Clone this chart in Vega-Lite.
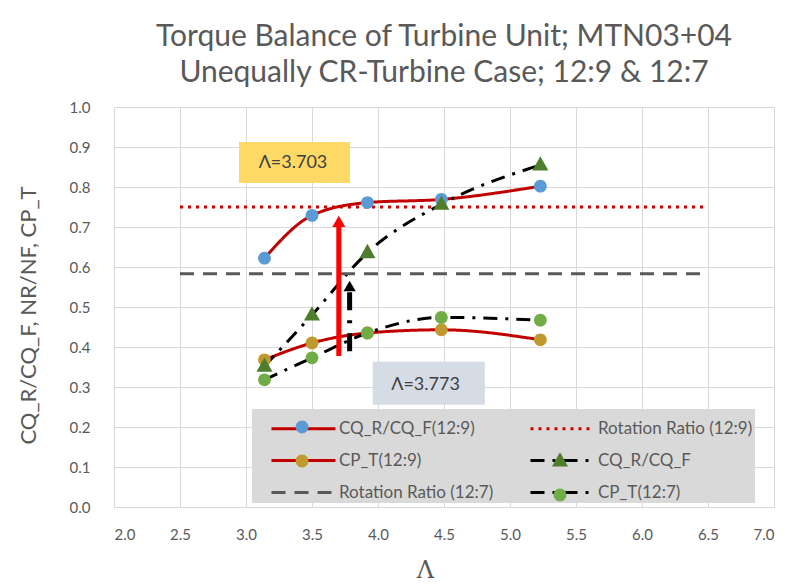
{
  "$schema": "https://vega.github.io/schema/vega-lite/v6.json",
  "width": 660,
  "height": 400,
  "autosize": {"type": "none"},
  "padding": {"left": 114, "top": 107, "right": 13, "bottom": 79},
  "background": "white",
  "title": {
    "text": ["Torque Balance of Turbine Unit; MTN03+04", "Unequally CR-Turbine Case; 12:9 & 12:7"],
    "font": "Lato",
    "fontSize": 30,
    "fontWeight": "normal",
    "color": "#595959",
    "lineHeight": 36,
    "anchor": "middle",
    "offset": 12
  },
  "datasets": {
    "series": [
      {"series": "CQ_R/CQ_F(12:9)", "lam": 3.14, "val": 0.622},
      {"series": "CQ_R/CQ_F(12:9)", "lam": 3.50, "val": 0.729},
      {"series": "CQ_R/CQ_F(12:9)", "lam": 3.92, "val": 0.761},
      {"series": "CQ_R/CQ_F(12:9)", "lam": 4.48, "val": 0.769},
      {"series": "CQ_R/CQ_F(12:9)", "lam": 5.23, "val": 0.802},
      {"series": "Rotation Ratio (12:9)", "lam": 2.5, "val": 0.75},
      {"series": "Rotation Ratio (12:9)", "lam": 6.5, "val": 0.75},
      {"series": "CP_T(12:9)", "lam": 3.14, "val": 0.368},
      {"series": "CP_T(12:9)", "lam": 3.50, "val": 0.410},
      {"series": "CP_T(12:9)", "lam": 3.92, "val": 0.435},
      {"series": "CP_T(12:9)", "lam": 4.48, "val": 0.443},
      {"series": "CP_T(12:9)", "lam": 5.23, "val": 0.418},
      {"series": "CQ_R/CQ_F", "lam": 3.14, "val": 0.352},
      {"series": "CQ_R/CQ_F", "lam": 3.50, "val": 0.480},
      {"series": "CQ_R/CQ_F", "lam": 3.92, "val": 0.636},
      {"series": "CQ_R/CQ_F", "lam": 4.48, "val": 0.757},
      {"series": "CQ_R/CQ_F", "lam": 5.23, "val": 0.855},
      {"series": "Rotation Ratio (12:7)", "lam": 2.5, "val": 0.5833},
      {"series": "Rotation Ratio (12:7)", "lam": 6.5, "val": 0.5833},
      {"series": "CP_T(12:7)", "lam": 3.14, "val": 0.318},
      {"series": "CP_T(12:7)", "lam": 3.50, "val": 0.373},
      {"series": "CP_T(12:7)", "lam": 3.92, "val": 0.435},
      {"series": "CP_T(12:7)", "lam": 4.48, "val": 0.474},
      {"series": "CP_T(12:7)", "lam": 5.23, "val": 0.467}
    ]
  },
  "encoding": {
    "x": {
      "field": "lam", "type": "quantitative",
      "scale": {"domain": [2, 7], "nice": false, "zero": false},
      "axis": {
        "values": [2, 2.5, 3, 3.5, 4, 4.5, 5, 5.5, 6, 6.5, 7],
        "format": ".1f",
        "labelPadding": 20,
        "labelOverlap": false,
        "title": "Λ",
        "titleFont": "DejaVu Serif",
        "titleFontSize": 24,
        "titleX": 311,
        "titleY": 51,
        "titleBaseline": "top"
      }
    },
    "y": {
      "field": "val", "type": "quantitative",
      "scale": {"domain": [0, 1], "nice": false},
      "axis": {
        "values": [0, 0.1, 0.2, 0.3, 0.4, 0.5, 0.6, 0.7, 0.8, 0.9, 1.0],
        "tickCount": 11,
        "format": ".1f",
        "labelPadding": 24,
        "labelOverlap": false,
        "title": "CQ_R/CQ_F, NR/NF, CP_T",
        "titleFont": "Lato",
        "titleFontSize": 22,
        "titleX": -86,
        "titleY": 208,
        "titleBaseline": "middle"
      }
    }
  },
  "layer": [
    {
      "data": {"values": [{"lam": 2.947, "lam2": 3.788, "val": 0.81, "hi": 0.9125}]},
      "mark": {"type": "rect", "color": "#FFD966"},
      "encoding": {
        "x2": {"field": "lam2"},
        "y2": {"field": "hi"}
      }
    },
    {
      "data": {"values": [{"lam": 3.96, "lam2": 4.81, "val": 0.2555, "hi": 0.363}]},
      "mark": {"type": "rect", "color": "#D6DCE5"},
      "encoding": {
        "x2": {"field": "lam2"},
        "y2": {"field": "hi"}
      }
    },
    {
      "data": {"name": "series"},
      "mark": {"type": "line", "interpolate": "monotone", "strokeWidth": 3},
      "encoding": {
        "color": {
          "field": "series", "type": "nominal",
          "scale": {
            "domain": ["CQ_R/CQ_F(12:9)", "CP_T(12:9)", "Rotation Ratio (12:7)", "Rotation Ratio (12:9)", "CQ_R/CQ_F", "CP_T(12:7)"],
            "range": ["#C00000", "#C00000", "#595959", "#D00000", "#000000", "#000000"]
          },
          "legend": {
            "title": null,
            "orient": "none",
            "legendX": 138,
            "legendY": 302,
            "columns": 2,
            "fillColor": "#D9D9D9",
            "padding": 2,
            "symbolType": "M0,0L4,0",
            "symbolSize": 1024,
            "symbolStrokeWidth": 3,
            "labelFont": "Lato",
            "labelFontSize": 17,
            "labelColor": "#595959",
            "labelOffset": 50,
            "labelLimit": 300,
            "rowPadding": 6,
            "columnPadding": 19
          }
        },
        "strokeDash": {
          "field": "series", "type": "nominal",
          "scale": {
            "domain": ["CQ_R/CQ_F(12:9)", "CP_T(12:9)", "Rotation Ratio (12:7)", "Rotation Ratio (12:9)", "CQ_R/CQ_F", "CP_T(12:7)"],
            "range": [[1, 0], [1, 0], [14, 9], [3, 5], [14, 8, 3, 8], [14, 8, 3, 8]]
          }
        }
      }
    },
    {
      "data": {"values": [{"lam": 3.703, "val": 0.3775, "hi": 0.70}]},
      "mark": {"type": "rule", "color": "#FF0000", "strokeWidth": 5},
      "encoding": {
        "y2": {"field": "hi"}
      }
    },
    {
      "data": {"values": [{"lam": 3.703, "val": 0.714}]},
      "mark": {"type": "point", "shape": "triangle-up", "filled": true, "color": "#FF0000", "size": 170, "opacity": 1}
    },
    {
      "data": {"values": [{"lam": 3.785, "val": 0.537, "hi": 0.38}]},
      "mark": {"type": "rule", "color": "#000000", "strokeWidth": 5, "strokeDash": [18, 10, 3, 10]},
      "encoding": {
        "y2": {"field": "hi"}
      }
    },
    {
      "data": {"values": [{"lam": 3.785, "val": 0.5525}]},
      "mark": {"type": "point", "shape": "triangle-up", "filled": true, "color": "#000000", "size": 150, "opacity": 1}
    },
    {
      "data": {"name": "series"},
      "transform": [{"filter": "indexof(datum.series, 'Rotation') < 0"}],
      "mark": {"type": "point", "filled": true, "size": 1024, "opacity": 1, "strokeWidth": 0},
      "encoding": {
        "fill": {
          "field": "series", "type": "nominal",
          "scale": {
            "domain": ["CP_T(12:7)", "CP_T(12:9)", "CQ_R/CQ_F", "CQ_R/CQ_F(12:9)", "Rotation Ratio (12:7)", "Rotation Ratio (12:9)"],
            "range": ["#70AD47", "#C09A2E", "#4E7D2C", "#5B9BD5", "transparent", "transparent"]
          },
          "legend": {
            "values": ["CQ_R/CQ_F(12:9)", "CP_T(12:9)", "Rotation Ratio (12:7)", "Rotation Ratio (12:9)", "CQ_R/CQ_F", "CP_T(12:7)"],
            "title": null,
            "orient": "none",
            "legendX": 138,
            "legendY": 302,
            "columns": 2,
            "fillColor": "transparent",
            "padding": 2,
            "symbolSize": 1024,
            "symbolOffset": 32,
            "symbolStrokeWidth": 0,
            "labelExpr": "''",
            "labelFont": "Lato",
            "labelFontSize": 17,
            "labelOffset": 50,
            "rowPadding": 10,
            "columnPadding": 144
          }
        },
        "shape": {
          "field": "series", "type": "nominal",
          "scale": {
            "domain": ["CP_T(12:7)", "CP_T(12:9)", "CQ_R/CQ_F", "CQ_R/CQ_F(12:9)", "Rotation Ratio (12:7)", "Rotation Ratio (12:9)"],
            "range": [
              "M0.4,0A0.4,0.4,0,1,1,-0.4,0A0.4,0.4,0,1,1,0.4,0Z",
              "M0.4,0A0.4,0.4,0,1,1,-0.4,0A0.4,0.4,0,1,1,0.4,0Z",
              "M0,-0.55L0.5,0.35L-0.5,0.35Z",
              "M0.4,0A0.4,0.4,0,1,1,-0.4,0A0.4,0.4,0,1,1,0.4,0Z",
              "M0.4,0A0.4,0.4,0,1,1,-0.4,0A0.4,0.4,0,1,1,0.4,0Z",
              "M0.4,0A0.4,0.4,0,1,1,-0.4,0A0.4,0.4,0,1,1,0.4,0Z"
            ]
          },
          "legend": {
            "values": ["CQ_R/CQ_F(12:9)", "CP_T(12:9)", "Rotation Ratio (12:7)", "Rotation Ratio (12:9)", "CQ_R/CQ_F", "CP_T(12:7)"],
            "title": null,
            "orient": "none",
            "legendX": 138,
            "legendY": 302,
            "columns": 2,
            "fillColor": "transparent",
            "padding": 2,
            "symbolSize": 1024,
            "symbolOffset": 32,
            "symbolStrokeWidth": 0,
            "labelExpr": "''",
            "labelFont": "Lato",
            "labelFontSize": 17,
            "labelOffset": 50,
            "rowPadding": 10,
            "columnPadding": 144
          }
        }
      }
    },
    {
      "data": {"values": [{"lam": 3.356, "val": 0.86, "label": "Λ=3.703"}, {"lam": 4.36, "val": 0.306, "label": "Λ=3.773"}]},
      "mark": {"type": "text", "font": "Lato", "fontSize": 18, "color": "#404040", "baseline": "middle", "align": "center"},
      "encoding": {
        "text": {"field": "label"}
      }
    }
  ],
  "config": {
    "view": {"stroke": null},
    "axis": {
      "grid": true,
      "gridColor": "#D9D9D9",
      "gridWidth": 1,
      "domainColor": "#D9D9D9",
      "ticks": false,
      "labelFont": "Lato",
      "labelFontSize": 15,
      "labelColor": "#595959",
      "titleFontWeight": "normal",
      "titleColor": "#595959"
    }
  }
}
